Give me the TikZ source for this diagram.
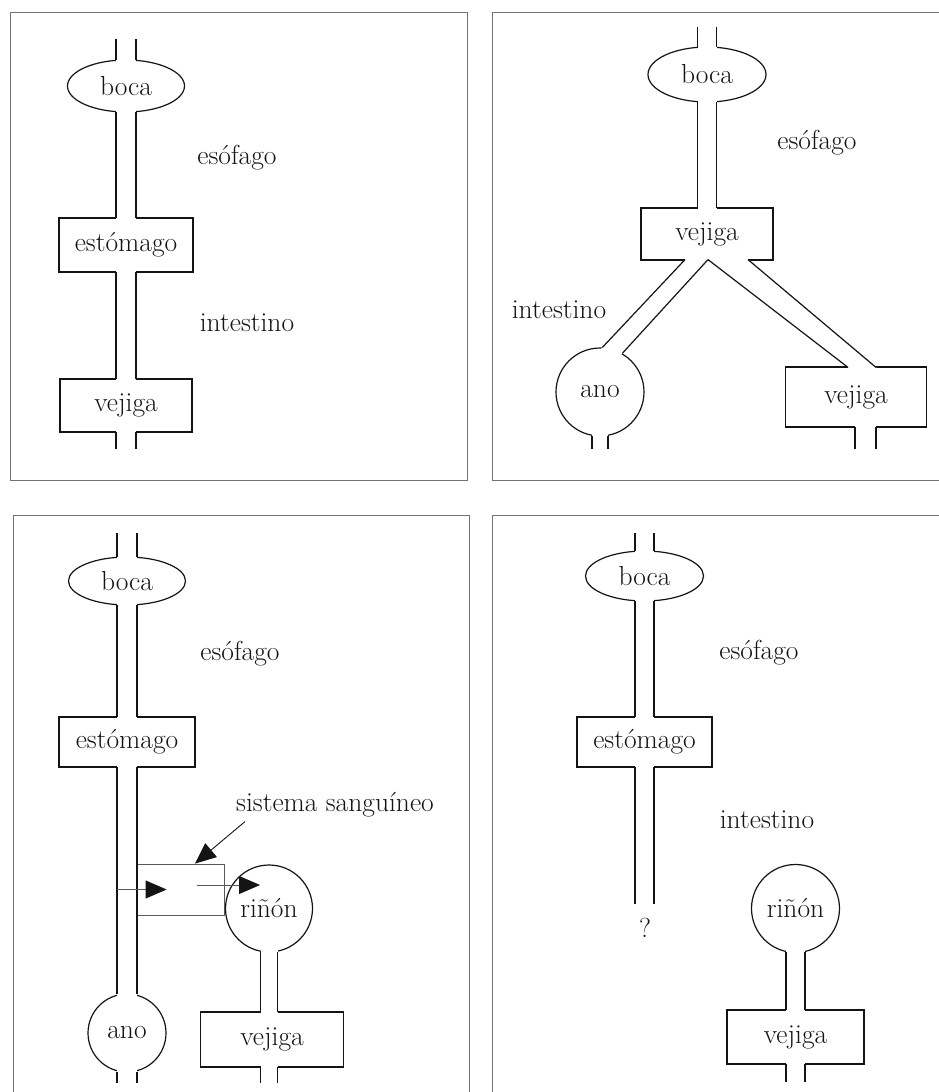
\documentclass[tikz,border=0pt]{standalone}
\usepackage{fontspec}
\usetikzlibrary{shapes.geometric,calc,arrows.meta}
\definecolor{inkc}{gray}{0.08}
\definecolor{framec}{gray}{0.45}
\definecolor{thinc}{gray}{0.35}
\newcommand\orgtube[4]{%
  \fill[white] ($#1!-3pt!#2$) -- ($#2!-3pt!#1$) -- ($#4!-3pt!#3$) -- ($#3!-3pt!#4$) -- cycle;
  \draw[tubeline] #1 -- #2 #3 -- #4;}
\newcommand\orgvtube[3][10pt]{\orgtube{([xshift=-#1,yshift=1pt]#2.south)}{([xshift=-#1,yshift=-1pt]#3.north)}{([xshift=#1,yshift=1pt]#2.south)}{([xshift=#1,yshift=-1pt]#3.north)}}
\newcommand\orgstubup[3][10pt]{\orgtube{([xshift=-#1,yshift=#3]#2.north)}{([xshift=-#1,yshift=-1pt]#2.north)}{([xshift=#1,yshift=#3]#2.north)}{([xshift=#1,yshift=-1pt]#2.north)}}
\newcommand\orgstubdown[3][10pt]{\orgtube{([xshift=-#1,yshift=1pt]#2.south)}{([xshift=-#1,yshift=-#3]#2.south)}{([xshift=#1,yshift=1pt]#2.south)}{([xshift=#1,yshift=-#3]#2.south)}}
\begin{document}
\begin{tikzpicture}[x=1pt,y=-1pt,
  organ/.style={draw=inkc, line width=1.2pt, inner sep=0pt, text=inkc, font=\fontsize{27.5}{32}\selectfont},
  orgrect/.style args={#1x#2}{organ, rectangle, minimum width=#1pt, minimum height=#2pt},
  orgell/.style args={#1x#2}{organ, ellipse, minimum width=#1pt, minimum height=#2pt},
  orgcirc/.style={organ, circle, minimum size=#1pt},
  lbl/.style={inner sep=0pt, text=inkc, font=\fontsize{27.5}{32}\selectfont},
  tubeline/.style={draw=inkc, line width=1.2pt},
  panelframe/.style={draw=framec, line width=0.8pt},
  bloodbox/.style={draw=thinc, line width=0.8pt, inner sep=0pt, minimum width=87pt, minimum height=51pt},
  bigtip/.style={-{Triangle[length=21pt,width=18pt,color=inkc]}},
  thinarrow/.style={draw=thinc, line width=0.8pt, bigtip},
]
\useasboundingbox (0,0) rectangle (938,1092);
\fill[white] (0,0) rectangle (938,1092);
% panel frames
\draw[panelframe] (10,12.5) rectangle (467,480.5);
\draw[panelframe] (945,12.5) -- (492,12.5) -- (492,480.5) -- (945,480.5);
\draw[panelframe] (13,1100) -- (13,515) -- (469,515) -- (469,1100);
\draw[panelframe] (492,1100) -- (492,515) -- (945,515);

% ---------- panel 1 ----------
\node[orgell=117x52] (b1) at (126,86) {boca};
\node[orgrect=134x54] (e1) at (126,245) {estómago};
\node[orgrect=132x53] (v1) at (126,405.5) {vejiga};
\node[lbl] (o1) at (237,158) {esófago};
\node[lbl] (i1) at (247,323) {intestino};
\orgstubup{b1}{20pt}
\orgvtube{b1}{e1}
\orgvtube{e1}{v1}
\orgstubdown{v1}{16pt}

% ---------- panel 2 ----------
\node[orgell=118x55] (b2) at (707,74.5) {boca};
\node[orgrect=132x52] (v2) at (707,234) {vejiga};
\node[orgcirc=88] (a2) at (600,392) {ano};
\node[orgrect=141x60] (w2) at (856,397) {vejiga};
\node[lbl] (o2) at (817,143) {esófago};
\node[lbl] (i2) at (559,310) {intestino};
\orgstubup[9.5pt]{b2}{19pt}
\orgvtube[9.5pt]{b2}{v2}
\orgtube{([xshift=-22pt,yshift=1pt]v2.south)}{(a2.87)}{([xshift=1pt,yshift=1pt]v2.south)}{(a2.60)}
\orgtube{([xshift=1pt,yshift=1pt]v2.south)}{([xshift=-8pt,yshift=-1pt]w2.north)}{([xshift=41pt,yshift=1pt]v2.south)}{([xshift=20pt,yshift=-1pt]w2.north)}
\orgstubdown[8pt]{a2}{12pt}
\orgtube{([xshift=-1pt,yshift=1pt]w2.south)}{([xshift=-1pt,yshift=-21pt]w2.south)}{([xshift=20pt,yshift=1pt]w2.south)}{([xshift=20pt,yshift=-21pt]w2.south)}

% ---------- panel 3 ----------
\node[orgell=117x48] (b3) at (127,581) {boca};
\node[orgrect=136x50] (e3) at (127,742) {estómago};
\node[orgcirc=78] (a3) at (127,1033) {ano};
\node[bloodbox] (sg) at (180.5,889.5) {};
\node[orgcirc=87] (r3) at (269,908.5) {riñón};
\node[orgrect=143x55] (v3) at (272,1039.5) {vejiga};
\node[lbl] (o3) at (240,654) {esófago};
\node[lbl] (s3) at (335,805) {sistema sanguíneo};
\orgstubup{b3}{23pt}
\orgvtube{b3}{e3}
\orgvtube{e3}{a3}
\orgstubdown{a3}{10pt}
\orgtube{([xshift=-8.5pt,yshift=1pt]r3.south)}{([xshift=-11.5pt,yshift=-1pt]v3.north)}{([xshift=8.5pt,yshift=1pt]r3.south)}{([xshift=5.5pt,yshift=-1pt]v3.north)}
\orgtube{([xshift=-11.5pt,yshift=1pt]v3.south)}{([xshift=-11.5pt,yshift=-15pt]v3.south)}{([xshift=5.5pt,yshift=1pt]v3.south)}{([xshift=5.5pt,yshift=-15pt]v3.south)}
\draw[draw=inkc, line width=0.9pt, bigtip] ([xshift=9pt,yshift=-4pt]s3.south west) -- ([xshift=14.5pt]sg.north);
\draw[thinarrow] ([xshift=-20pt]sg.west) -- ([xshift=30pt]sg.west);
\draw[thinarrow] ([xshift=16.5pt,yshift=4.5pt]sg.center) -- ([xshift=-9pt,yshift=23.5pt]r3.center);

% ---------- panel 4 ----------
\node[orgell=118x50] (b4) at (644.5,576) {boca};
\node[orgrect=135x50] (e4) at (644.5,742) {estómago};
\node[orgcirc=88] (r4) at (795.5,908.5) {riñón};
\node[orgrect=137x54] (v4) at (795.5,1037) {vejiga};
\node[lbl] (o4) at (759,653) {esófago};
\node[lbl] (i4) at (767,820) {intestino};
\node[lbl] (q4) at (645,928) {?};
\orgstubup[9.5pt]{b4}{17pt}
\orgvtube[9.5pt]{b4}{e4}
\orgstubdown[9.5pt]{e4}{136pt}
\orgvtube[9.5pt]{r4}{v4}
\orgstubdown[9.5pt]{v4}{17pt}
\end{tikzpicture}
\end{document}
